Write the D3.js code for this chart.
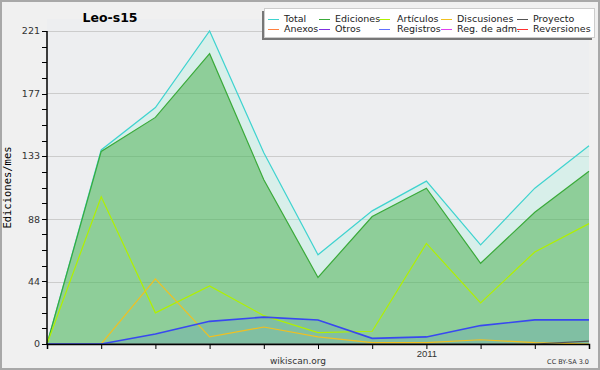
<!DOCTYPE html>
<html>
<head>
<meta charset="utf-8">
<script src="https://cdn.jsdelivr.net/npm/d3@7"></script>
<style>
  body { margin: 0; background: #f0f0f0; }
  svg { display: block; font-family: "DejaVu Sans", sans-serif; }
</style>
</head>
<body>
<svg id="chart" width="600" height="370"></svg>
<script>
// monthly values, Jun 2010 .. Apr 2011
var months = ["2010-06", "2010-07", "2010-08", "2010-09", "2010-10", "2010-11",
              "2010-12", "2011-01", "2011-02", "2011-03", "2011-04"];
var total       = [0, 137, 167, 221, 135, 63, 94, 115, 70, 110, 140];
var ediciones   = [0, 136, 160, 205, 116, 47, 90, 110, 57, 93, 122];
var articulos   = [0, 104, 22, 41, 20, 8, 9, 71, 29, 65, 85];
var discusiones = [0, 0, 46, 5, 12, 5, 1, 1, 3, 1, 0];
var registros   = [0, 0, 7, 16, 19, 17, 4, 5, 13, 17, 17];
var proyecto    = [0, 0, 0, 0, 0, 0, 0, 0, 0, 0, 2];
var yTicks = [0, 44, 88, 133, 177, 221];

var legendItems = [
  ["Total", "#3fd3cf"], ["Ediciones", "#3aaa3a"], ["Artículos", "#b0f000"], ["Discusiones", "#f0c020"], ["Proyecto", "#555555"],
  ["Anexos", "#ff8040"], ["Otros", "#8030e0"], ["Registros", "#6070ff"], ["Reg. de adm.", "#e040f0"], ["Reversiones", "#ff3030"]
];

var svg = d3.select("#chart");
var margin = {top: 31, right: 11, bottom: 26, left: 47};
var W = 600, H = 370;
var width = W - margin.left - margin.right,
    height = H - margin.top - margin.bottom;

// frame
svg.append("rect").attr("x", 1).attr("y", 1).attr("width", W - 2).attr("height", H - 2)
  .attr("fill", "#f0f0f0").attr("stroke", "#a8a8a8").attr("stroke-width", 2);

var g = svg.append("g").attr("transform", "translate(" + margin.left + "," + margin.top + ")");

g.append("rect").attr("x", 0).attr("y", -12).attr("width", width).attr("height", height + 12)
  .attr("fill", "#edeef0");

var x = d3.scalePoint().domain(months).range([0, width]);
var y = d3.scaleLinear().domain([0, 221]).range([height, 0]);

// grid
g.append("g").selectAll("line").data(yTicks.slice(1)).enter().append("line")
  .attr("x1", 0).attr("x2", width)
  .attr("y1", function(d) { return Math.round(y(d)) + 0.5; })
  .attr("y2", function(d) { return Math.round(y(d)) + 0.5; })
  .attr("stroke", "#cccccc");

function series(vals) {
  return vals.map(function(v, i) { return {m: months[i], v: v}; });
}
var area = d3.area().x(function(d) { return x(d.m); }).y0(y(0)).y1(function(d) { return y(d.v); });
var line = d3.line().x(function(d) { return x(d.m); }).y(function(d) { return y(d.v); });

g.append("path").datum(series(total)).attr("d", area).attr("fill", "rgba(160,245,220,0.28)");
g.append("path").datum(series(ediciones)).attr("d", area).attr("fill", "rgba(40,160,40,0.42)");
g.append("path").datum(series(registros)).attr("d", area).attr("fill", "rgba(40,90,230,0.13)");

var lines = [
  [total, "#3fd3cf", 1.2],
  [ediciones, "#3aaa3a", 1.2],
  [articulos, "#b0f000", 1.2],
  [discusiones, "#f0c020", 1.2],
  [proyecto, "#555555", 1.2],
  [registros, "#3848f0", 1.6]
];
lines.forEach(function(l) {
  g.append("path").datum(series(l[0])).attr("d", line)
    .attr("fill", "none").attr("stroke", l[1]).attr("stroke-width", l[2]);
});

// axes
var xAxis = d3.axisBottom(x).tickSize(5)
  .tickFormat(function(d) { return d === "2011-01" ? "2011" : ""; });
var xg = g.append("g").attr("transform", "translate(0," + height + ")").call(xAxis);
xg.select(".domain").attr("stroke", "#000").attr("stroke-width", 1.5);
xg.selectAll("text").attr("fill", "#333").attr("font-size", 9.5).attr("dy", "0.5em");

var minor = d3.range(0, 21).map(function(i) { return 221 * i / 20; });
g.append("g").selectAll("line").data(minor).enter().append("line")
  .attr("x1", -5).attr("x2", 0)
  .attr("y1", function(d) { return Math.round(y(d)) + 0.5; })
  .attr("y2", function(d) { return Math.round(y(d)) + 0.5; })
  .attr("stroke", "#000");
g.append("line").attr("x1", 0).attr("x2", 0).attr("y1", 0).attr("y2", height)
  .attr("stroke", "#000").attr("stroke-width", 1.5);
g.append("g").selectAll("text").data(yTicks).enter().append("text")
  .attr("x", -7).attr("y", function(d) { return y(d); }).attr("dy", "0.35em")
  .attr("text-anchor", "end").attr("font-size", 9.5).attr("fill", "#333")
  .text(function(d) { return d; });

svg.append("text").attr("transform", "translate(11," + (margin.top + height / 2) + ") rotate(-90)")
  .attr("text-anchor", "middle").attr("font-family", "DejaVu Sans Mono, monospace")
  .attr("font-size", 10.5).attr("fill", "#000").text("Ediciones/mes");

svg.append("text").attr("x", 110).attr("y", 22).attr("text-anchor", "middle")
  .attr("font-size", 12.5).attr("font-weight", "bold").text("Leo-s15");

svg.append("text").attr("x", 298).attr("y", 364).attr("text-anchor", "middle")
  .attr("font-size", 9).attr("fill", "#333").text("wikiscan.org");
svg.append("text").attr("x", 589).attr("y", 364).attr("text-anchor", "end")
  .attr("font-size", 6.5).attr("fill", "#333").text("CC BY-SA 3.0");

// legend
var lg = svg.append("g");
lg.append("rect").attr("x", 262).attr("y", 11).attr("width", 330).attr("height", 29).attr("fill", "#777");
lg.append("rect").attr("x", 264.5).attr("y", 8.5).attr("width", 330).attr("height", 29)
  .attr("fill", "#fff").attr("stroke", "#ccc");
var colX = [268, 319, 379, 441, 517];
var textX = [284, 335, 397, 457, 533];
legendItems.forEach(function(it, i) {
  var c = i % 5, r = Math.floor(i / 5);
  var yy = 19 + r * 10;
  lg.append("line").attr("x1", colX[c]).attr("x2", colX[c] + 11)
    .attr("y1", yy + 0.5).attr("y2", yy + 0.5).attr("stroke", it[1]);
  lg.append("text").attr("x", textX[c]).attr("y", yy).attr("dy", "0.35em")
    .attr("font-size", 9.5).attr("fill", "#222").text(it[0]);
});
</script>
</body>
</html>
